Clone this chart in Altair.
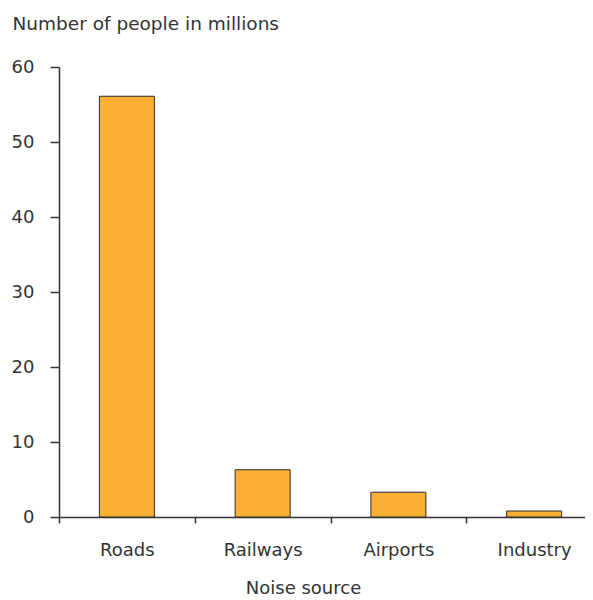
import altair as alt
import pandas as pd

sources = ["Roads", "Railways", "Airports", "Industry"]
people = [56.1, 6.3, 3.3, 0.8]
y_ticks = [0, 10, 20, 30, 40, 50, 60]

df = pd.DataFrame({"source": sources, "people": people})

FONT = "DejaVu Sans"
TXT = "#333333"

chart = alt.Chart(df).mark_bar(
    width=55, color="#F9B035", stroke="#2b2b2b", strokeWidth=1
).encode(
    x=alt.X(
        "source:N",
        sort=sources,
        scale=alt.Scale(range=[0, 543], paddingInner=0, paddingOuter=0),
        axis=alt.Axis(
            title="Noise source",
            labelAngle=0,
            tickBand="extent",
            tickSize=6,
            labelPadding=18,
            labelFontSize=18,
            titleFontSize=18,
            titleFontWeight="normal",
            titleX=244,
            titleY=76,
            titleAlign="center",
            titleBaseline="alphabetic",
        ),
    ),
    y=alt.Y(
        "people:Q",
        scale=alt.Scale(domain=[0, 60], nice=False),
        axis=alt.Axis(
            title="Number of people in millions",
            values=y_ticks,
            grid=False,
            tickSize=9,
            labelPadding=16,
            labelFontSize=18,
            titleFontSize=18.5,
            titleFontWeight="normal",
            titleAngle=0,
            titleX=-47,
            titleY=-38,
            titleAlign="left",
            titleBaseline="alphabetic",
        ),
    ),
).properties(
    width=526,
    height=450,
    autosize=alt.AutoSizeParams(type="none"),
    padding={"left": 51, "top": 59, "right": 0, "bottom": 80},
).configure(
    font=FONT,
).configure_axis(
    domainColor=TXT,
    tickColor=TXT,
    labelColor=TXT,
    titleColor=TXT,
    labelFont=FONT,
    titleFont=FONT,
    domainWidth=1.5,
    tickWidth=1.5,
).configure_view(
    stroke=None,
)

chart.save("out.html", embed_options={"renderer": "svg", "actions": False})
